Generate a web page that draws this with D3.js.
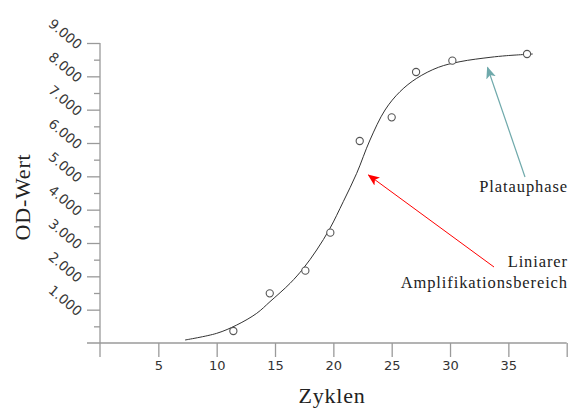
<!DOCTYPE html>
<html>
<head>
<meta charset="utf-8">
<script src="https://cdn.jsdelivr.net/npm/d3@7"></script>
<style>
  body { margin: 0; background: #fff; }
  .tick text { font-family: "DejaVu Sans", Verdana, sans-serif; font-size: 13px; fill: #333; }
  .title { font-family: "Liberation Serif", serif; fill: #222; }
  .note { font-family: "Liberation Serif", serif; font-size: 16.5px; fill: #222; letter-spacing: 0.9px; }
</style>
</head>
<body>
<div id="chart"></div>
<script>
// messpunkte
var cyclesMeasured = [11.43, 14.55, 17.6, 19.74, 22.26, 25.0, 27.09, 30.2, 36.6];
var odMeasured = [360, 1490, 2170, 3310, 6060, 6770, 8130, 8470, 8670];

// kurve
var cyclesCurve = [7.29, 10.0, 11.72, 13.43, 14.57, 16.29, 17.43, 18.57, 19.71, 20.85, 22.0, 23.14, 24.43, 25.71, 27.14, 29.0, 30.86, 33.43, 34.86, 37.09];
var odCurve = [90, 290, 540, 890, 1240, 1790, 2240, 2790, 3440, 4240, 5090, 6090, 6990, 7540, 7940, 8270, 8440, 8570, 8620, 8670];

var xTickLabels = [5, 10, 15, 20, 25, 30, 35];
var yTickLabels = ["1.000", "2.000", "3.000", "4.000", "5.000", "6.000", "7.000", "8.000", "9.000"];

var svg = d3.select("#chart").append("svg").attr("width", 579).attr("height", 408);

var x = d3.scaleLinear().domain([0, 40]).range([100, 566.7]);
var y = d3.scaleLinear().domain([0, 9000]).range([343, 43]);

var axisColor = "#9a9a9a";

// x achse
var gx = svg.append("g").attr("transform", "translate(0,343)")
  .call(d3.axisBottom(x).tickValues(d3.range(0, 41, 5)).tickSize(14).tickPadding(4)
    .tickFormat(d => xTickLabels.indexOf(d) >= 0 ? d : ""));
gx.select(".domain").remove();
gx.append("line").attr("x1", 87).attr("x2", x(40)).attr("stroke", axisColor).attr("stroke-width", 1.3);
gx.selectAll(".tick line").attr("stroke", axisColor).attr("stroke-width", 1.3);
gx.selectAll(".tick").filter(d => d == 0).select("line").attr("y2", 0);

// y achse
var gy = svg.append("g").attr("transform", "translate(100,0)")
  .call(d3.axisLeft(y).tickValues(d3.range(500, 9001, 500)).tickSize(6).tickFormat(""));
gy.select(".domain").remove();
gy.append("line").attr("y1", y(9000)).attr("y2", 357).attr("stroke", axisColor).attr("stroke-width", 1.3);
gy.selectAll(".tick line").attr("stroke", axisColor).attr("stroke-width", 1.3)
  .attr("x2", d => d % 1000 == 0 ? -13 : -6);

svg.append("g").selectAll("text").data(yTickLabels).join("text")
  .attr("transform", (d, i) => "translate(77," + (y((i + 1) * 1000) + 7) + ") rotate(40)")
  .attr("text-anchor", "end")
  .style("font-family", "DejaVu Sans, Verdana, sans-serif").style("font-size", "13.5px").style("fill", "#3a3a3a")
  .text(d => d);

// titel
svg.append("text").attr("class", "title").attr("x", 332).attr("y", 403)
  .attr("text-anchor", "middle").style("font-size", "22px").style("letter-spacing", "0.8px").text("Zyklen");
svg.append("text").attr("class", "title").attr("transform", "translate(30,197) rotate(-90)")
  .attr("text-anchor", "middle").style("font-size", "22px").style("letter-spacing", "0.8px").text("OD-Wert");

// kurve
var line = d3.line().x(d => x(d[0])).y(d => y(d[1])).curve(d3.curveCatmullRom.alpha(0.5));
svg.append("path").datum(cyclesCurve.map((c, i) => [c, odCurve[i]]))
  .attr("d", line).attr("fill", "none").attr("stroke", "#333").attr("stroke-width", 1);

svg.append("g").selectAll("circle").data(cyclesMeasured).join("circle")
  .attr("cx", d => x(d)).attr("cy", (d, i) => y(odMeasured[i])).attr("r", 3.6)
  .attr("fill", "#fff").attr("stroke", "#555").attr("stroke-width", 1.1);

// pfeile
var defs = svg.append("defs");
[["tealHead", "#6fa9ab"], ["redHead", "#ff0000"]].forEach(function (m) {
  defs.append("marker").attr("id", m[0]).attr("viewBox", "0 0 12 10")
    .attr("refX", 11).attr("refY", 5).attr("markerWidth", 12).attr("markerHeight", 10)
    .attr("markerUnits", "userSpaceOnUse").attr("orient", "auto")
    .append("path").attr("d", "M0,0 L12,5 L0,10 L3,5 Z").attr("fill", m[1]);
});
svg.append("line").attr("x1", 525).attr("y1", 177).attr("x2", 487.5).attr("y2", 67.5)
  .attr("stroke", "#6fa9ab").attr("stroke-width", 1.2).attr("marker-end", "url(#tealHead)");
svg.append("line").attr("x1", 494).attr("y1", 267).attr("x2", 368.5).attr("y2", 175)
  .attr("stroke", "#ff0000").attr("stroke-width", 1).attr("marker-end", "url(#redHead)");

svg.append("text").attr("class", "note").attr("x", 568).attr("y", 192).attr("text-anchor", "end").text("Platauphase");
svg.append("text").attr("class", "note").attr("x", 568).attr("y", 267).attr("text-anchor", "end").text("Liniarer");
svg.append("text").attr("class", "note").attr("x", 568).attr("y", 288).attr("text-anchor", "end").text("Amplifikationsbereich");
</script>
</body>
</html>
